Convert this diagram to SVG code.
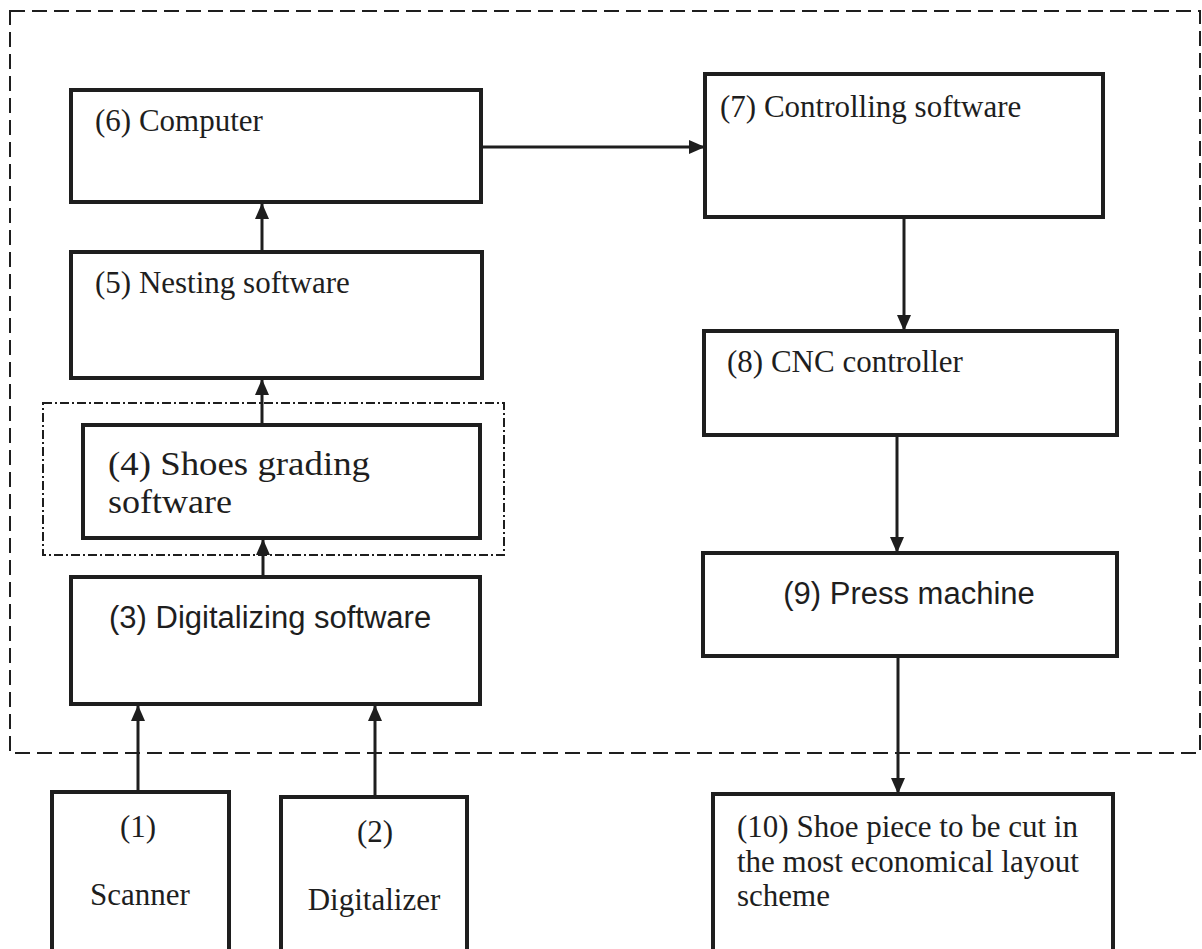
<svg xmlns="http://www.w3.org/2000/svg" width="1202" height="949" viewBox="0 0 1202 949">
<style>
.box{fill:none;stroke:#1e1e1e;stroke-width:4}
.t{font-family:"Liberation Serif","Times New Roman",serif;font-size:31px;fill:#1e1e1e}
.a{font-family:"Liberation Sans",Arial,sans-serif;font-size:31px;fill:#1e1e1e}
.big{font-size:33px}
.c{fill:none;stroke:#1e1e1e;stroke-width:3}
.outer{fill:none;stroke:#1e1e1e;stroke-width:2;stroke-dasharray:15 7}
.dd{fill:none;stroke:#1e1e1e;stroke-width:2;stroke-dasharray:9 3 2 3}
</style>
<defs>
<marker id="ah" markerWidth="16" markerHeight="16" refX="16" refY="8" orient="auto" markerUnits="userSpaceOnUse">
<path d="M0,1 L16,8 L0,15 z" fill="#1e1e1e"/>
</marker>
</defs>
<rect width="1202" height="949" fill="#ffffff"/>
<rect id="system-boundary" class="outer" x="10" y="11" width="1190" height="742"/>
<rect id="grading-boundary" class="dd" x="43" y="403" width="461" height="152"/>
<g id="connectors">
<line class="c" x1="481" y1="147" x2="705" y2="147" marker-end="url(#ah)"/>
<line class="c" x1="262" y1="252" x2="262" y2="203" marker-end="url(#ah)"/>
<line class="c" x1="262" y1="425" x2="262" y2="379" marker-end="url(#ah)"/>
<line class="c" x1="263" y1="577" x2="263" y2="539" marker-end="url(#ah)"/>
<line class="c" x1="138" y1="792" x2="138" y2="705" marker-end="url(#ah)"/>
<line class="c" x1="375" y1="797" x2="375" y2="705" marker-end="url(#ah)"/>
<line class="c" x1="904" y1="217" x2="904" y2="331" marker-end="url(#ah)"/>
<line class="c" x1="897" y1="435" x2="897" y2="553" marker-end="url(#ah)"/>
<line class="c" x1="898" y1="656" x2="898" y2="794" marker-end="url(#ah)"/>
</g>
<g id="n6"><rect class="box" x="71" y="90" width="410" height="112"/><text class="t" x="95" y="131">(6) Computer</text></g>
<g id="n5"><rect class="box" x="71" y="252" width="411" height="126"/><text class="t" x="95" y="293">(5) Nesting software</text></g>
<g id="n4"><rect class="box" x="83" y="425" width="397" height="113"/><text class="t big" x="108" y="475" textLength="262" lengthAdjust="spacingAndGlyphs">(4) Shoes grading</text><text class="t big" x="108" y="513" textLength="124" lengthAdjust="spacingAndGlyphs">software</text></g>
<g id="n3"><rect class="box" x="71" y="577" width="409" height="127"/><text class="a" x="109" y="628">(3) Digitalizing software</text></g>
<g id="n1"><rect class="box" x="52" y="792" width="177" height="170"/><text class="t" x="138" y="837" text-anchor="middle">(1)</text><text class="t" x="140" y="905" text-anchor="middle">Scanner</text></g>
<g id="n2"><rect class="box" x="281" y="797" width="186" height="165"/><text class="t" x="375" y="842" text-anchor="middle">(2)</text><text class="t" x="374" y="910" text-anchor="middle">Digitalizer</text></g>
<g id="n7"><rect class="box" x="705" y="74" width="398" height="143"/><text class="t" x="720" y="117">(7) Controlling software</text></g>
<g id="n8"><rect class="box" x="704" y="331" width="413" height="104"/><text class="t" x="727" y="372">(8) CNC controller</text></g>
<g id="n9"><rect class="box" x="703" y="553" width="414" height="103"/><text class="a" x="909" y="604" text-anchor="middle">(9) Press machine</text></g>
<g id="n10"><rect class="box" x="713" y="794" width="400" height="170"/><text class="t" x="737" y="837">(10) Shoe piece to be cut in</text><text class="t" x="737" y="872">the most economical layout</text><text class="t" x="737" y="906">scheme</text></g>
</svg>
